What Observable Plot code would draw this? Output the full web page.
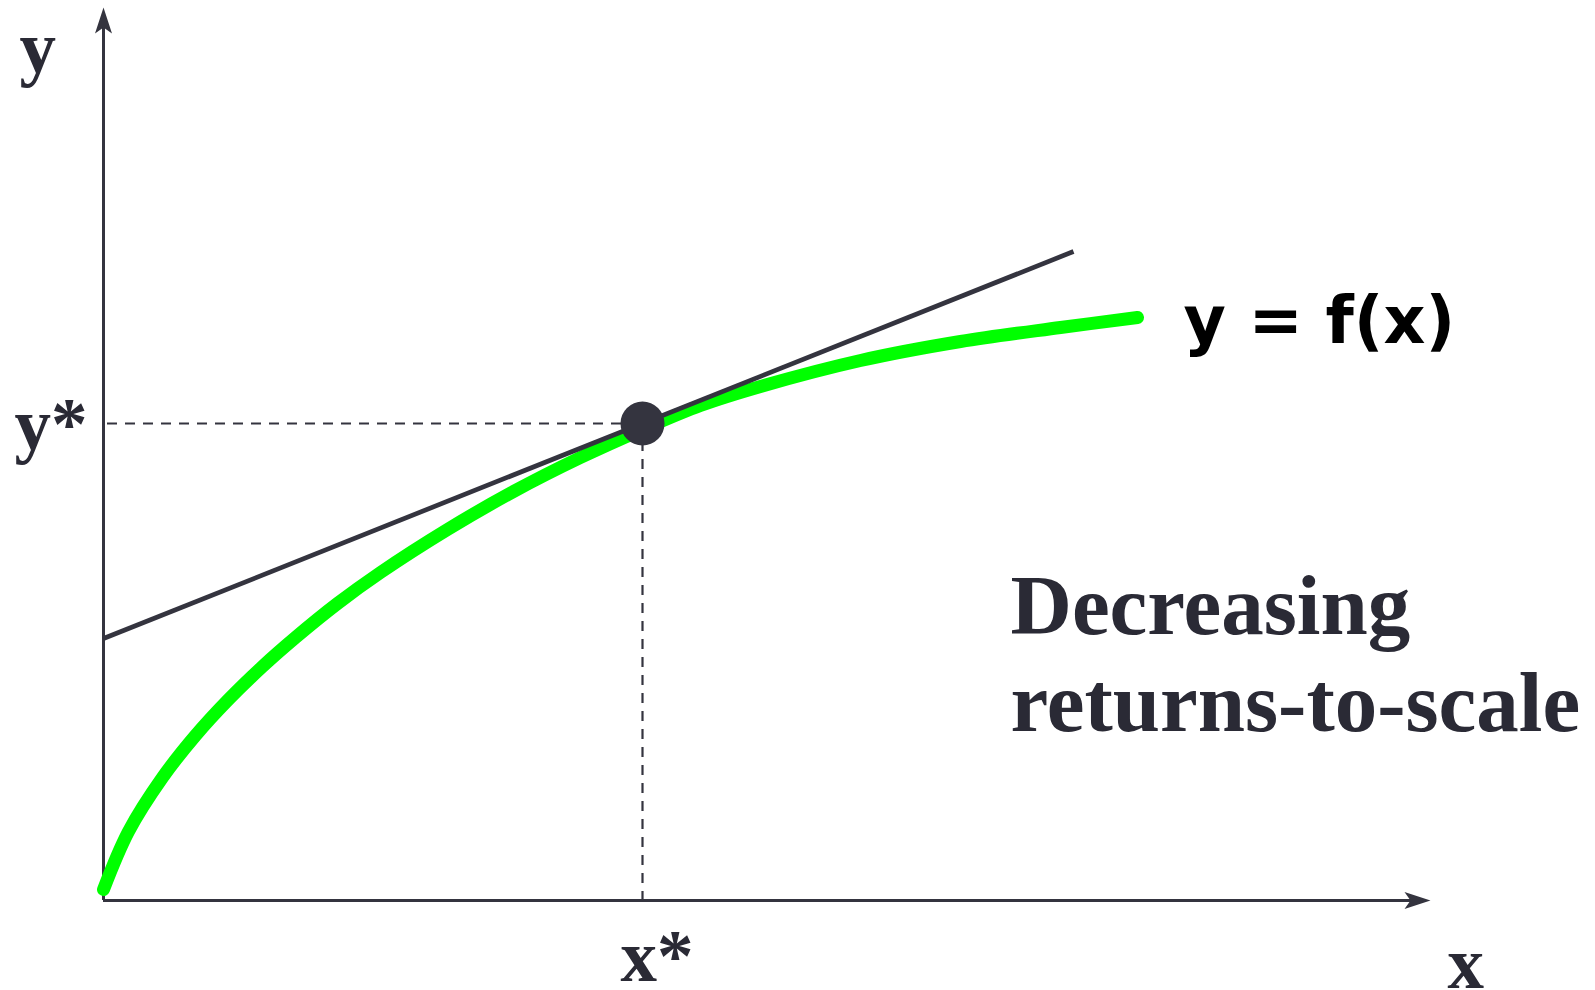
<!DOCTYPE html>
<html>
<head>
<meta charset="utf-8">
<script src="https://cdn.jsdelivr.net/npm/d3@7"></script>
<script src="https://cdn.jsdelivr.net/npm/@observablehq/plot@0.6"></script>
<style>
  html, body { margin: 0; padding: 0; background: #ffffff; }
  #chart svg { display: block; }
</style>
</head>
<body>
<div id="chart"></div>
<script>
// Production function y = f(x) (one unit = 100 px on both axes)
const curveX = [0.0, 0.25, 0.59, 0.92, 1.25, 1.59, 1.92, 2.34, 2.77, 3.44, 4.10, 4.77, 5.39, 5.97, 6.57, 7.57, 8.57, 9.57, 10.34];
const curveY = [0.11, 0.69, 1.23, 1.65, 2.01, 2.34, 2.63, 2.97, 3.28, 3.71, 4.09, 4.43, 4.71, 4.95, 5.14, 5.40, 5.59, 5.73, 5.83];

// Tangent line through the optimum
const tangentX = [0, 9.70];
const tangentY = [2.62, 6.49];

// Optimum point (x*, y*)
const xStar = 5.39;
const yStar = 4.77;

// Axis extents (arrow tips)
const axisX = [0, 13.27];
const axisY = [0, 8.93];

// Labels
const serifLabels = ["y", "y*", "x*", "x"];
const serifLabelX = [-0.84, -0.89, 5.17, 13.44];
const serifLabelY = [8.29, 4.52, -0.80, -0.87];
const curveLabel = "y = f(x)";
const curveLabelX = 10.80;
const curveLabelY = 5.58;
const noteText = "Decreasing\nreturns-to-scale";
const noteX = 9.07;
const noteY = 1.70;

const ink = "#34343f";
const textInk = "#2a2a35";

const curve = curveX.map((x, i) => ({x, y: curveY[i]}));
const tangent = tangentX.map((x, i) => ({x, y: tangentY[i]}));
const labels = serifLabels.map((t, i) => ({t, x: serifLabelX[i], y: serifLabelY[i]}));

// Filled, notched arrowhead pointing up with its tip at the origin
const arrowHead = {
  draw(ctx) {
    ctx.moveTo(0, 0);
    ctx.lineTo(8.5, 26);
    ctx.lineTo(0, 20);
    ctx.lineTo(-8.5, 26);
    ctx.closePath();
  }
};

const chart = Plot.plot({
  width: 1595,
  height: 990,
  marginLeft: 103,
  marginRight: 165,
  marginTop: 7,
  marginBottom: 90,
  x: {domain: axisX, axis: null},
  y: {domain: axisY, axis: null},
  style: {background: "#ffffff"},
  marks: [
    // dashed guides to the optimum
    Plot.ruleY([yStar], {x1: 0, x2: xStar, stroke: ink, strokeWidth: 2.2, strokeDasharray: "10,8", strokeDashoffset: -4}),
    Plot.ruleX([xStar], {y1: yStar, y2: 0, stroke: ink, strokeWidth: 2.2, strokeDasharray: "10,8"}),
    // axes
    Plot.ruleY([0], {x1: 0, x2: axisX[1] - 0.12, stroke: ink, strokeWidth: 3}),
    Plot.ruleX([0], {y1: 0, y2: axisY[1] - 0.12, stroke: ink, strokeWidth: 3}),
    Plot.dot([{x: 0, y: axisY[1]}], {x: "x", y: "y", symbol: arrowHead, r: 10, fill: ink, stroke: "none"}),
    Plot.dot([{x: axisX[1], y: 0}], {x: "x", y: "y", symbol: arrowHead, r: 10, rotate: 90, fill: ink, stroke: "none"}),
    // production function
    Plot.line(curve, {x: "x", y: "y", stroke: "#00ff00", strokeWidth: 13, curve: "catmull-rom", strokeLinecap: "round"}),
    // tangent
    Plot.line(tangent, {x: "x", y: "y", stroke: ink, strokeWidth: 4.7, strokeLinecap: "butt"}),
    // optimum
    Plot.dot([{x: xStar, y: yStar}], {x: "x", y: "y", r: 22, fill: ink, stroke: "none"}),
    // labels
    Plot.text(labels, {x: "x", y: "y", text: "t", textAnchor: "start", lineAnchor: "bottom",
      fontFamily: "Liberation Serif", fontWeight: "bold", fontSize: 73, fill: textInk}),
    Plot.text([curveLabel], {x: curveLabelX, y: curveLabelY, text: d => d, textAnchor: "start", lineAnchor: "bottom",
      fontFamily: "DejaVu Sans", fontWeight: "bold", fontSize: 65, fill: "#000000"}),
    Plot.text([noteText], {x: noteX, y: noteY, text: d => d, textAnchor: "start", lineAnchor: "bottom",
      lineHeight: 1.14, fontFamily: "Liberation Serif", fontWeight: "bold", fontSize: 85, fill: textInk})
  ]
});

document.getElementById("chart").appendChild(chart);
</script>
</body>
</html>
